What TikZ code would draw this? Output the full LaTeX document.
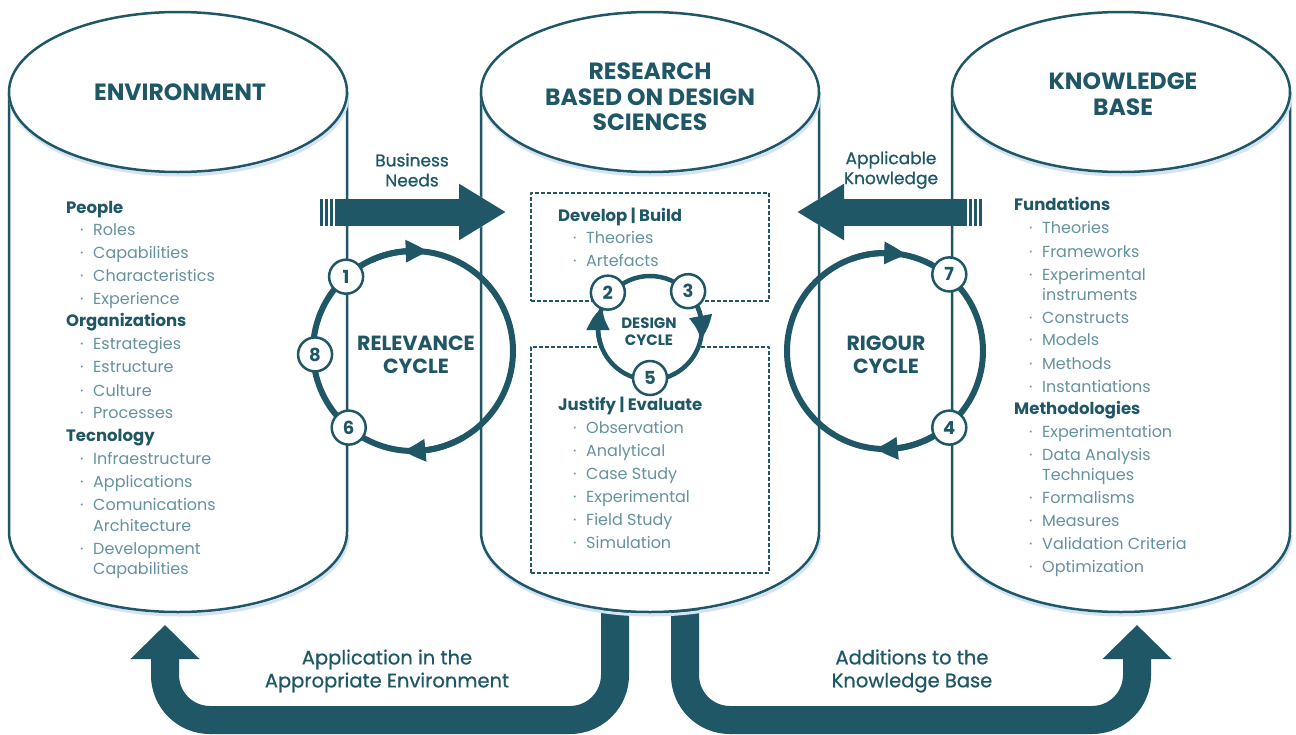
\documentclass[tikz,border=0pt]{standalone}
\usepackage{fontspec}
\setmainfont{Poppins}
\newfontfamily\medfont[FakeBold=0.8]{Poppins}
\usetikzlibrary{arrows.meta,bending,calc}
\definecolor{deep}{HTML}{1F5766}
\definecolor{soft}{HTML}{6592A0}
\definecolor{haze}{HTML}{D3E3F3}
\begin{document}
\begin{tikzpicture}[x=1pt,y=-1pt,line join=round,
  cyl/.style={draw=deep,line width=2.5pt,fill=white},
  glow/.style={draw=haze,line width=3pt,xshift=1pt,yshift=-3pt},
  title/.style={text=deep,font=\fontsize{23.5}{25.5}\selectfont\bfseries,align=center},
  cyc/.style={text=deep,font=\fontsize{20.5}{23}\selectfont\bfseries,align=center},
  lbl/.style={text=deep,font=\fontsize{17}{20}\selectfont\medfont,align=center},
  big/.style={text=deep,font=\fontsize{19.5}{23}\selectfont\medfont,align=center},
  head/.style={text=deep,font=\fontsize{16.5}{19}\selectfont\bfseries,anchor=base west,inner sep=0},
  itm/.style={text=soft,font=\fontsize{16}{18}\selectfont,anchor=base west,inner sep=0},
  num/.style={circle,draw=deep,line width=2.5pt,fill=white,minimum size=34pt,inner sep=0,
    text=deep,font=\fontsize{18}{18}\selectfont\bfseries},
  ring/.style={draw=deep,line width=6pt},
  dbox/.style={draw=deep,line width=1.8pt,dash pattern=on 4pt off 2pt,inner sep=0},
  bar/.style={draw=deep,line width=27pt,-{Triangle[width=53pt,length=47pt]}},
  fat/.style={draw=deep,line width=28pt,rounded corners=45pt,-{Triangle[width=67pt,length=34pt]}}]
\useasboundingbox (0,0) rectangle (1296,734);

% outputs of the research
\coordinate (res-l) at (615,590);
\coordinate (env-b) at (165,625);
\coordinate (res-r) at (685,590);
\coordinate (kb-b) at (1137,625);
\draw[fat,glow,line width=28pt,draw=haze] (res-l) -- ++(0,130) -| (env-b);
\draw[fat,glow,line width=28pt,draw=haze] (res-r) -- ++(0,130) -| (kb-b);
\draw[fat] (res-l) -- ++(0,130) -| (env-b);
\draw[fat] (res-r) -- ++(0,130) -| (kb-b);
\node[big] (app) at (387,671) {Application in the\\Appropriate Environment};
\node[big] (add) at (912,671) {Additions to the\\Knowledge Base};

% the three cylinders
\foreach \c/\nm in {178/env,650/res,1121/kb}{
  \draw[glow] (\c+169,532) arc[start angle=0,end angle=180,x radius=169,y radius=80];
  \draw[cyl] (\c-169,92) -- (\c-169,532) arc[start angle=180,end angle=0,x radius=169,y radius=80] -- (\c+169,92);
  \draw[glow] (\c+169,92) arc[start angle=0,end angle=180,x radius=169,y radius=80];
  \draw[cyl] (\c,92) ellipse[x radius=169,y radius=80];
  \coordinate (\nm) at (\c,92);
}
\node[title] (env-t) at (180,92) {ENVIRONMENT};
\node[title] (res-t) at (650,97) {RESEARCH\\BASED ON DESIGN\\SCIENCES};
\node[title] (kb-t) at (1123,94) {KNOWLEDGE\\BASE};

% needs and knowledge
\coordinate (bn-s) at (335,212);
\coordinate (bn-e) at (506,212);
\draw[bar,glow,line width=27pt,draw=haze] (bn-s) -- (bn-e);
\draw[bar] (bn-s) -- (bn-e);
\foreach \x in {321.5,326.5,331.5} \draw[deep,line width=2.6pt] (\x,199) -- (\x,226);
\node[lbl] (bn) at (412,170) {Business\\Needs};
\coordinate (ak-s) at (967,212);
\coordinate (ak-e) at (797,212);
\draw[bar,glow,line width=27pt,draw=haze] (ak-s) -- (ak-e);
\draw[bar] (ak-s) -- (ak-e);
\foreach \x in {970.5,975.5,980.5} \draw[deep,line width=2.6pt] (\x,199) -- (\x,226);
\node[lbl] (ak) at (891,170) {Applicable\\Knowledge};

% relevance cycle
\coordinate (rel) at (413,351);
\draw[ring] (rel) circle[radius=100];
\draw[ring,-{Triangle[width=21pt,length=23pt,bend]}] ([shift={(245:100)}]rel) arc[start angle=245,end angle=279,radius=100];
\draw[ring,-{Triangle[width=21pt,length=23pt,bend]}] ([shift={(60:100)}]rel) arc[start angle=60,end angle=96,radius=100];
\node[num] (n1) at ([shift={(228:100)}]rel) {1};
\node[num] (n8) at ([shift={(178:98)}]rel) {8};
\node[num] (n6) at ([shift={(130:100)}]rel) {6};
\node[cyc] (rel-t) at (416,355) {RELEVANCE\\CYCLE};

% rigour cycle
\coordinate (rig) at (885,351);
\draw[ring] (rig) circle[radius=98];
\draw[ring,-{Triangle[width=21pt,length=23pt,bend]}] ([shift={(250:98)}]rig) arc[start angle=250,end angle=283,radius=98];
\draw[ring,-{Triangle[width=21pt,length=23pt,bend]}] ([shift={(60:98)}]rig) arc[start angle=60,end angle=96,radius=98];
\node[num] (n7) at ([shift={(310:100)}]rig) {7};
\node[num] (n4) at ([shift={(50:100)}]rig) {4};
\node[cyc] (rig-t) at (886,355) {RIGOUR\\CYCLE};

% design cycle
\node[dbox,minimum width=238pt,minimum height=108pt] (dev) at (650,247) {};
\node[dbox,minimum width=238pt,minimum height=226pt] (jus) at (650,460) {};
\coordinate (dsg) at (650,328);
\draw[ring,line width=4.5pt,fill=white] (dsg) circle[radius=52];
\draw[ring,line width=4.5pt,-{Triangle[width=22pt,length=24pt,bend]}] ([shift={(160:52)}]dsg) arc[start angle=160,end angle=204,radius=52];
\draw[ring,line width=4.5pt,-{Triangle[width=22pt,length=24pt,bend]}] ([shift={(-32:52)}]dsg) arc[start angle=-32,end angle=13,radius=52];
\node[num] (n2) at ([shift={(220:55)}]dsg) {2};
\node[num] (n3) at ([shift={(316:53)}]dsg) {3};
\node[num] (n5) at ([shift={(90:50)}]dsg) {5};
\node[cyc,font=\fontsize{15}{17}\selectfont\bfseries] (dsg-t) at (649,332) {DESIGN\\CYCLE};

% lists
\node[head] (dev-h) at (558,221) {Develop | Build};
\foreach \y/\t [count=\i] in {243/Theories,266/Artefacts}
  \node[itm] (dev-\i) at (573,\y) {\makebox[13pt][l]{·}\t};
\node[head] (jus-h) at (558,410) {Justify | Evaluate};
\foreach \y/\t [count=\i] in {433/Observation,456/Analytical,479/Case Study,502/Experimental,525/Field Study,548/Simulation}
  \node[itm] (jus-\i) at (573,\y) {\makebox[13pt][l]{·}\t};

\node[head] (env-h1) at (66,213) {People};
\node[head] (env-h2) at (66,326) {Organizations};
\node[head] (env-h3) at (66,441) {Tecnology};
\foreach \y/\t/\b [count=\i] in {235/Roles/·,258/Capabilities/·,281/Characteristics/·,304/Experience/·,
    349/Estrategies/·,372/Estructure/·,396/Culture/·,418/Processes/·,
    464/Infraestructure/·,487/Applications/·,510/Comunications/·,531/Architecture/{},554/Development/·,574/Capabilities/{}}
  \node[itm] (env-\i) at (80,\y) {\makebox[13pt][l]{\b}\t};

\node[head] (kb-h1) at (1014,210) {Fundations};
\node[head] (kb-h2) at (1014,414) {Methodologies};
\foreach \y/\t/\b [count=\i] in {233/Theories/·,257/Frameworks/·,280/Experimental/·,300/instruments/{},
    323/Constructs/·,345/Models/·,369/Methods/·,392/Instantiations/·,
    437/Experimentation/·,460/Data Analysis/·,480/Techniques/{},503/Formalisms/·,526/Measures/·,549/Validation Criteria/·,572/Optimization/·}
  \node[itm] (kb-\i) at (1029,\y) {\makebox[13pt][l]{\b}\t};
\end{tikzpicture}
\end{document}
